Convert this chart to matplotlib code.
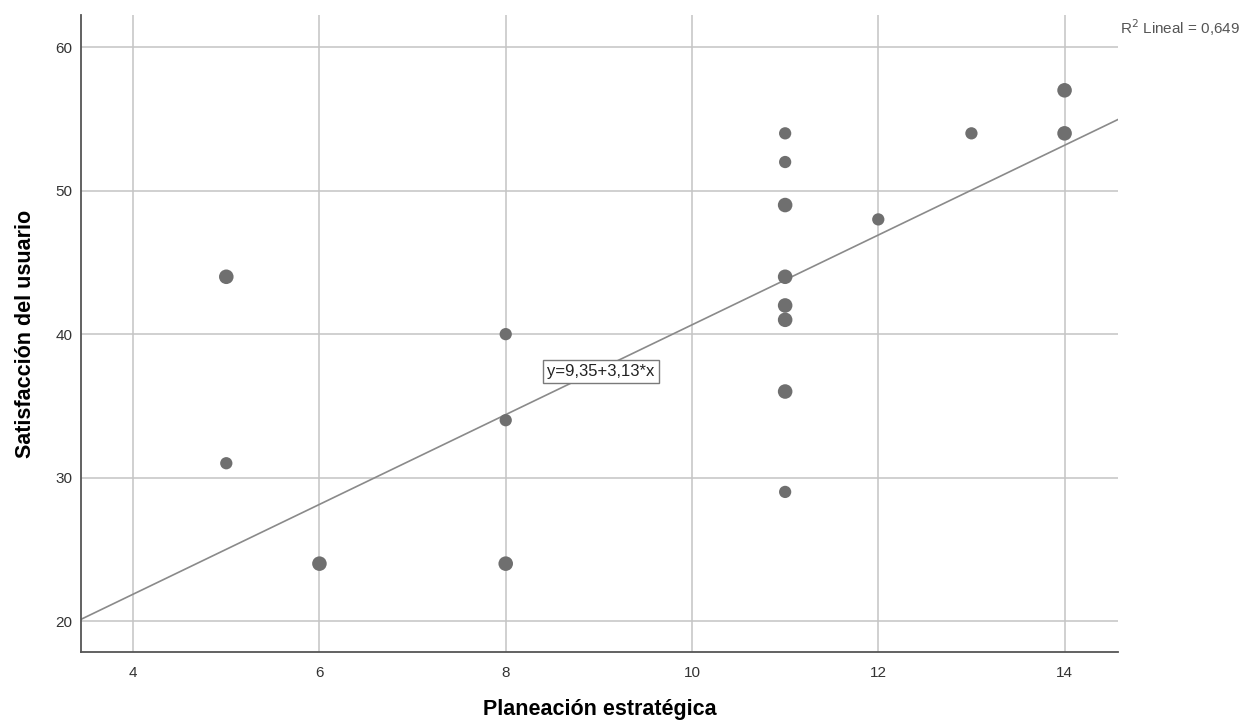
import numpy as np
import matplotlib
matplotlib.use("Agg")
import matplotlib.pyplot as plt

plt.rcParams["font.family"] = ["Liberation Sans", "DejaVu Sans"]

# ── Data ─────────────────────────────────────────────────────────
planeacion = [5, 5, 6, 8, 8, 8, 11, 11, 11, 11, 11, 11, 11, 11, 12, 13, 14, 14]
satisfaccion = [44, 31, 24, 40, 34, 24, 54, 52, 49, 44, 42, 41, 36, 29, 48, 54, 57, 54]
repetidos = [2, 1, 2, 1, 1, 2, 1, 1, 2, 2, 2, 2, 2, 1, 1, 1, 2, 2]

intercepto = 9.35
pendiente = 3.13
r2 = 0.649

x_ticks = [4, 6, 8, 10, 12, 14]
y_ticks = [20, 30, 40, 50, 60]
xlim = (3.44, 14.57)
ylim = (17.84, 62.23)

# ── Figure ───────────────────────────────────────────────────────
fig = plt.figure(figsize=(12.46, 7.28), dpi=100)
ax = fig.add_axes([0.065, 0.1044, 0.832, 0.8746])

grid_c = "#c4c4c4"
for xt in x_ticks:
    ax.axvline(xt, color=grid_c, lw=1.1, zorder=1)
for yt in y_ticks:
    ax.axhline(yt, color=grid_c, lw=1.1, zorder=1)

sizes = [78 if n == 1 else 110 for n in repetidos]
ax.scatter(planeacion, satisfaccion, s=sizes, color="#6f6f6f", edgecolors="none", zorder=3)

xl = np.array(xlim)
ax.plot(xl, intercepto + pendiente * xl, color="#8a8a8a", lw=1.2, zorder=2)

ax.text(9.02, 37.4, f"y={intercepto:.2f}+{pendiente:.2f}*x".replace(".", ","),
        fontsize=12, ha="center", va="center", color="#222222", zorder=4,
        bbox=dict(boxstyle="square,pad=0.25", fc="white", ec="#7a7a7a", lw=1))

ax.set_xlim(*xlim)
ax.set_ylim(*ylim)
ax.set_xticks(x_ticks)
ax.set_yticks(y_ticks)
ax.tick_params(length=0, labelsize=11, colors="#333333")
ax.tick_params(axis="y", pad=6)
ax.tick_params(axis="x", pad=10)
for side in ["top", "right"]:
    ax.spines[side].set_visible(False)
for side in ["left", "bottom"]:
    ax.spines[side].set_color("#555555")
    ax.spines[side].set_linewidth(1.3)

ax.set_xlabel("Planeación estratégica", fontsize=15.5, fontweight="bold", labelpad=14)
ax.set_ylabel("Satisfacción del usuario", fontsize=15.5, fontweight="bold", labelpad=14)

fig.text(0.995, 0.962, f"R$^2$ Lineal = {r2:.3f}".replace(".", ","),
         ha="right", va="center", fontsize=11, color="#555555")

fig.savefig("out.png", dpi=100)
